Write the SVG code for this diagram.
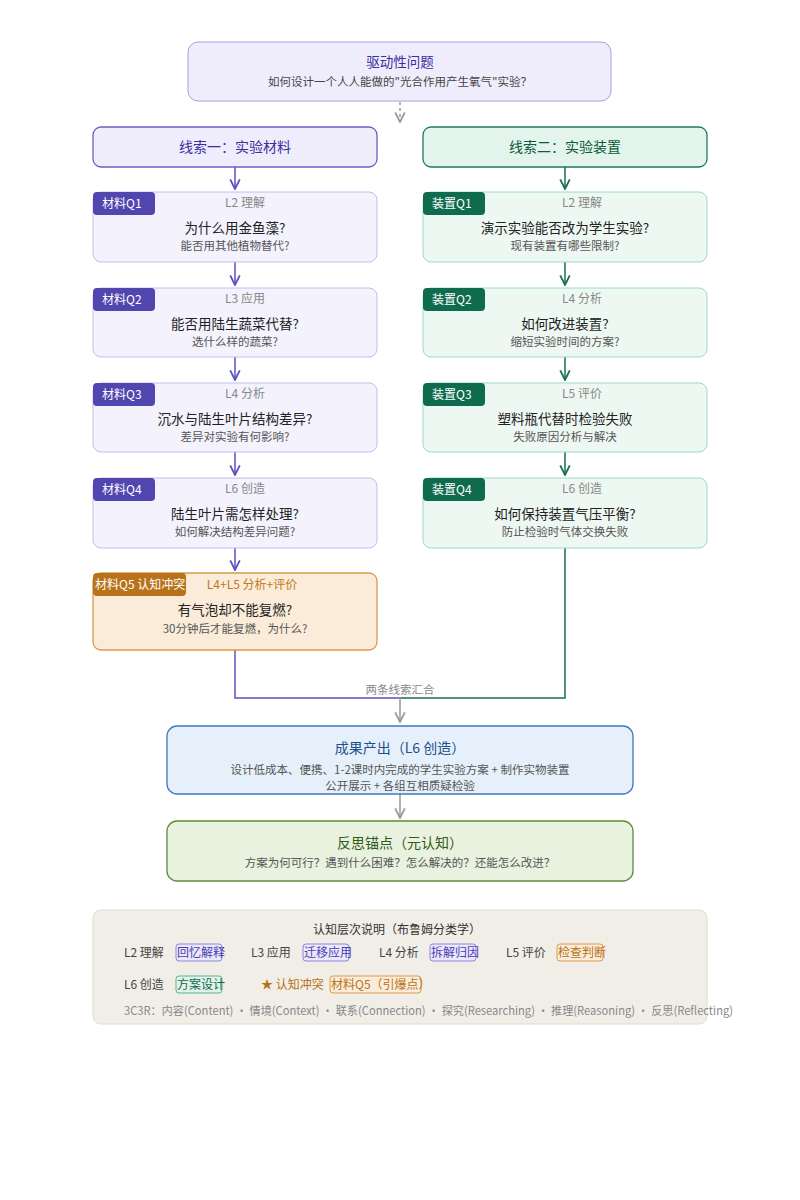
<svg xmlns="http://www.w3.org/2000/svg" width="800" height="1200" viewBox="0 0 800 1200">
<defs>
<style>
text{font-family:"Noto Sans CJK SC","Noto Sans",sans-serif;text-anchor:middle}
.pcard{fill:#f3f2fd;stroke:#c3bdf0;stroke-width:1}
.gcard{fill:#eef8f3;stroke:#9fd9c0;stroke-width:1}
.pb{fill:#5145b0}.gb{fill:#0f6b4e}
.bt{fill:#fff;font-size:12px;text-anchor:start}
.lv{fill:#888;font-size:12px}
.t{fill:#222;font-size:13.5px}
.s{fill:#555;font-size:11.5px}
.pl{stroke:#5a4fc0;stroke-width:1.5;fill:none}
.gl{stroke:#1a6e55;stroke-width:1.5;fill:none}
.gr{stroke:#999;stroke-width:1.5;fill:none}
.lg{font-size:12px;text-anchor:start;fill:#444}
</style>
<marker id="ap" viewBox="0 0 10 10" refX="9" refY="5" markerWidth="8" markerHeight="8" orient="auto"><path d="M1,1 L9,5 L1,9" fill="none" stroke="#5a4fc0" stroke-width="1.5"/></marker>
<marker id="ag" viewBox="0 0 10 10" refX="9" refY="5" markerWidth="8" markerHeight="8" orient="auto"><path d="M1,1 L9,5 L1,9" fill="none" stroke="#1a6e55" stroke-width="1.5"/></marker>
<marker id="ay" viewBox="0 0 10 10" refX="9" refY="5" markerWidth="8" markerHeight="8" orient="auto"><path d="M1,1 L9,5 L1,9" fill="none" stroke="#999" stroke-width="1.5"/></marker>
</defs>
<rect width="800" height="1200" fill="#fff"/>
<g id="connectors">
<path class="gr" d="M400,102 V122" stroke-dasharray="3,3" marker-end="url(#ay)"/>
<path class="pl" d="M235,167 V189" marker-end="url(#ap)"/>
<path class="pl" d="M235,262 V285" marker-end="url(#ap)"/>
<path class="pl" d="M235,357 V380" marker-end="url(#ap)"/>
<path class="pl" d="M235,452 V475" marker-end="url(#ap)"/>
<path class="pl" d="M235,548 V570" marker-end="url(#ap)"/>
<path class="gl" d="M565,167 V189" marker-end="url(#ag)"/>
<path class="gl" d="M565,262 V285" marker-end="url(#ag)"/>
<path class="gl" d="M565,357 V380" marker-end="url(#ag)"/>
<path class="gl" d="M565,452 V475" marker-end="url(#ag)"/>
<path class="pl" d="M235,650 V698 H400"/>
<path class="gl" d="M565,548 V698 H400"/>
<path class="gr" d="M400,698 V722" marker-end="url(#ay)"/>
<text x="400" y="694" style="font-size:11.5px;fill:#888">两条线索汇合</text>
<path class="gr" d="M400,794 V818" marker-end="url(#ay)"/>
</g>
<g id="driver">
<rect x="188" y="42" width="423" height="59" rx="10" fill="#efedfc" stroke="#a99ee6"/>
<text x="400" y="67" style="font-size:13.5px;fill:#3b2fa0">驱动性问题</text>
<text x="400" y="86" style="font-size:11.5px;fill:#444">如何设计一个人人能做的"光合作用产生氧气"实验？</text>
</g>
<g id="lane1">
<rect x="93" y="127" width="284" height="40" rx="8" fill="#efedfc" stroke="#6a5fc8" stroke-width="1.3"/>
<text x="235" y="152" style="font-size:14px;fill:#3b2fa0">线索一：实验材料</text>
</g>
<g id="lane2">
<rect x="423" y="127" width="284" height="40" rx="8" fill="#e3f4ec" stroke="#1f7a5c" stroke-width="1.3"/>
<text x="565" y="152" style="font-size:14px;fill:#0f5a40">线索二：实验装置</text>
</g>
<g id="m1"><rect class="pcard" x="93" y="192" width="284" height="70" rx="8"/><rect class="pb" x="93" y="192" width="62" height="23" rx="4"/><text class="bt" x="102" y="208">材料Q1</text><text class="lv" x="245" y="207">L2 理解</text><text class="t" x="235" y="233">为什么用金鱼藻?</text><text class="s" x="235" y="250">能否用其他植物替代?</text></g>
<g id="m2"><rect class="pcard" x="93" y="288" width="284" height="69" rx="8"/><rect class="pb" x="93" y="288" width="62" height="23" rx="4"/><text class="bt" x="102" y="304">材料Q2</text><text class="lv" x="245" y="303">L3 应用</text><text class="t" x="235" y="329">能否用陆生蔬菜代替?</text><text class="s" x="235" y="346">选什么样的蔬菜?</text></g>
<g id="m3"><rect class="pcard" x="93" y="383" width="284" height="69" rx="8"/><rect class="pb" x="93" y="383" width="62" height="23" rx="4"/><text class="bt" x="102" y="399">材料Q3</text><text class="lv" x="245" y="398">L4 分析</text><text class="t" x="235" y="424">沉水与陆生叶片结构差异?</text><text class="s" x="235" y="441">差异对实验有何影响?</text></g>
<g id="m4"><rect class="pcard" x="93" y="478" width="284" height="70" rx="8"/><rect class="pb" x="93" y="478" width="62" height="23" rx="4"/><text class="bt" x="102" y="494">材料Q4</text><text class="lv" x="245" y="493">L6 创造</text><text class="t" x="235" y="519">陆生叶片需怎样处理?</text><text class="s" x="235" y="536">如何解决结构差异问题?</text></g>
<g id="m5"><rect x="93" y="573" width="284" height="77" rx="8" fill="#faecd9" stroke="#d89a4e" stroke-width="1.3"/><rect x="93" y="573" width="93" height="23" rx="4" fill="#b8721a"/><text class="bt" x="95" y="589">材料Q5 认知冲突</text><text x="252" y="589" style="font-size:12px;fill:#c0781a">L4+L5 分析+评价</text><text class="t" x="235" y="615">有气泡却不能复燃?</text><text class="s" x="235" y="633">30分钟后才能复燃，为什么?</text></g>
<g id="d1"><rect class="gcard" x="423" y="192" width="284" height="70" rx="8"/><rect class="gb" x="423" y="192" width="62" height="23" rx="4"/><text class="bt" x="432" y="208">装置Q1</text><text class="lv" x="582" y="207">L2 理解</text><text class="t" x="565" y="233">演示实验能否改为学生实验?</text><text class="s" x="565" y="250">现有装置有哪些限制?</text></g>
<g id="d2"><rect class="gcard" x="423" y="288" width="284" height="69" rx="8"/><rect class="gb" x="423" y="288" width="62" height="23" rx="4"/><text class="bt" x="432" y="304">装置Q2</text><text class="lv" x="582" y="303">L4 分析</text><text class="t" x="565" y="329">如何改进装置?</text><text class="s" x="565" y="346">缩短实验时间的方案?</text></g>
<g id="d3"><rect class="gcard" x="423" y="383" width="284" height="69" rx="8"/><rect class="gb" x="423" y="383" width="62" height="23" rx="4"/><text class="bt" x="432" y="399">装置Q3</text><text class="lv" x="582" y="398">L5 评价</text><text class="t" x="565" y="424">塑料瓶代替时检验失败</text><text class="s" x="565" y="441">失败原因分析与解决</text></g>
<g id="d4"><rect class="gcard" x="423" y="478" width="284" height="70" rx="8"/><rect class="gb" x="423" y="478" width="62" height="23" rx="4"/><text class="bt" x="432" y="494">装置Q4</text><text class="lv" x="582" y="493">L6 创造</text><text class="t" x="565" y="519">如何保持装置气压平衡?</text><text class="s" x="565" y="536">防止检验时气体交换失败</text></g>
<g id="result"><rect x="167" y="726" width="466" height="68" rx="10" fill="#e6f0fb" stroke="#3f78b8" stroke-width="1.3"/><text x="400" y="753" style="font-size:14px;fill:#1d4f8a">成果产出（L6 创造）</text><text class="s" x="400" y="774">设计低成本、便携、1-2课时内完成的学生实验方案 + 制作实物装置</text><text class="s" x="400" y="790">公开展示 + 各组互相质疑检验</text></g>
<g id="reflect"><rect x="167" y="821" width="466" height="60" rx="10" fill="#e8f2df" stroke="#5c8a3c" stroke-width="1.3"/><text x="400" y="848" style="font-size:14px;fill:#2f5a18">反思锚点（元认知）</text><text class="s" x="400" y="867">方案为何可行？遇到什么困难？怎么解决的？还能怎么改进？</text></g>
<g id="legend">
<rect x="93" y="910" width="614" height="114" rx="8" fill="#f1eee7" stroke="#e0dcd2"/>
<text x="397" y="934" style="font-size:12px;fill:#333">认知层次说明（布鲁姆分类学）</text>
<text class="lg" x="124" y="957">L2 理解</text>
<rect x="176" y="944" width="46" height="17" rx="3" fill="#ebe8fb" stroke="#8f84d8"/><text class="lg" x="177" y="957" style="fill:#4a3eb0">回忆解释</text>
<text class="lg" x="251" y="957">L3 应用</text>
<rect x="303" y="944" width="46" height="17" rx="3" fill="#ebe8fb" stroke="#8f84d8"/><text class="lg" x="304" y="957" style="fill:#4a3eb0">迁移应用</text>
<text class="lg" x="379" y="957">L4 分析</text>
<rect x="430" y="944" width="46" height="17" rx="3" fill="#ebe8fb" stroke="#8f84d8"/><text class="lg" x="431" y="957" style="fill:#4a3eb0">拆解归因</text>
<text class="lg" x="506" y="957">L5 评价</text>
<rect x="557" y="944" width="46" height="17" rx="3" fill="#faecd9" stroke="#d89a4e"/><text class="lg" x="558" y="957" style="fill:#b8721a">检查判断</text>
<text class="lg" x="124" y="989">L6 创造</text>
<rect x="176" y="976" width="46" height="17" rx="3" fill="#e0f2ea" stroke="#5fb391"/><text class="lg" x="177" y="989" style="fill:#0f6b4e">方案设计</text>
<text class="lg" x="261" y="989" style="fill:#b8721a">★ 认知冲突</text>
<rect x="330" y="976" width="91" height="17" rx="3" fill="#faecd9" stroke="#d89a4e"/><text class="lg" x="331" y="989" style="fill:#b8721a">材料Q5（引爆点）</text>
<text class="lg" x="124" y="1015" style="fill:#888;font-size:11.5px" textLength="609" lengthAdjust="spacingAndGlyphs">3C3R：内容(Content) · 情境(Context) · 联系(Connection) · 探究(Researching) · 推理(Reasoning) · 反思(Reflecting)</text>
</g>
</svg>
